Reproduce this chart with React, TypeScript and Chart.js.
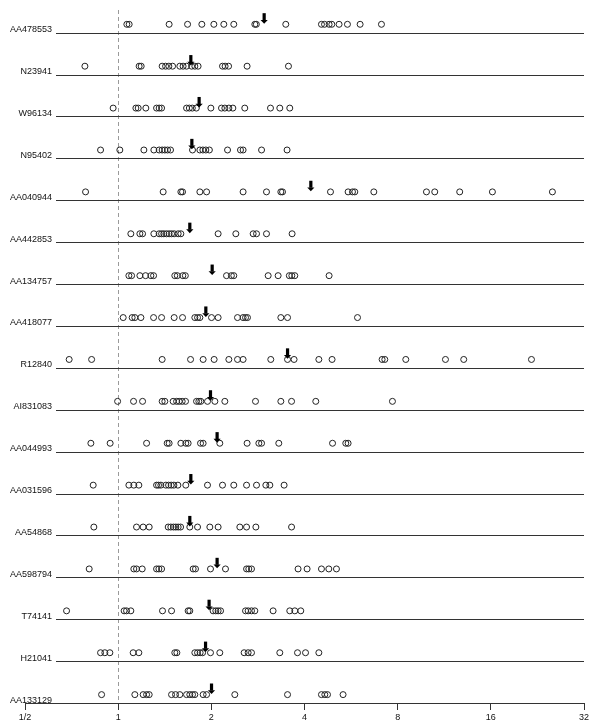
import { useEffect, useRef } from "react";
import { Chart, registerables } from "chart.js";

Chart.register(...registerables);

// Gene / clone identifiers, top to bottom
const geneNames = [
  "AA478553", "N23941", "W96134", "N95402", "AA040944", "AA442853", "AA134757",
  "AA418077", "R12840", "AI831083", "AA044993", "AA031596", "AA54868",
  "AA598794", "T74141", "H21041", "AA133129",
];

// Observed ratios for each clone, stored as log2(ratio)
const AA478553 = [0.093, 0.118, 0.547, 0.745, 0.898, 1.027, 1.134, 1.241, 1.467, 1.483, 1.799, 2.182, 2.215, 2.264, 2.293, 2.371, 2.461, 2.597, 2.826];
const N23941 = [-0.357, 0.225, 0.247, 0.472, 0.509, 0.544, 0.584, 0.662, 0.697, 0.734, 0.788, 0.823, 0.858, 1.12, 1.148, 1.185, 1.384, 1.828];
const W96134 = [-0.054, 0.19, 0.215, 0.297, 0.412, 0.44, 0.466, 0.734, 0.764, 0.796, 0.839, 0.995, 1.109, 1.145, 1.188, 1.231, 1.359, 1.635, 1.735, 1.842];
const N95402 = [-0.189, 0.018, 0.276, 0.383, 0.44, 0.472, 0.501, 0.53, 0.562, 0.798, 0.877, 0.909, 0.941, 0.979, 1.174, 1.313, 1.341, 1.539, 1.813];
const AA040944 = [-0.35, 0.483, 0.673, 0.691, 0.877, 0.949, 1.341, 1.592, 1.746, 1.764, 2.279, 2.468, 2.515, 2.54, 2.744, 3.309, 3.398, 3.666, 4.017, 4.661];
const AA442853 = [0.136, 0.233, 0.262, 0.383, 0.44, 0.466, 0.49, 0.519, 0.547, 0.573, 0.601, 0.644, 0.673, 1.073, 1.263, 1.449, 1.485, 1.592, 1.867];
const AA134757 = [0.115, 0.144, 0.233, 0.294, 0.351, 0.38, 0.608, 0.635, 0.694, 0.721, 1.163, 1.215, 1.241, 1.61, 1.717, 1.837, 1.864, 1.896, 2.264];
const AA418077 = [0.054, 0.15, 0.179, 0.244, 0.38, 0.466, 0.601, 0.691, 0.823, 0.852, 0.877, 1.002, 1.073, 1.281, 1.341, 1.367, 1.388, 1.746, 1.818, 2.569];
const R12840 = [-0.526, -0.285, 0.472, 0.777, 0.912, 1.03, 1.188, 1.281, 1.341, 1.638, 1.818, 1.888, 2.154, 2.296, 2.833, 2.862, 3.087, 3.513, 3.709, 4.436];
const AI831083 = [-0.006, 0.165, 0.262, 0.472, 0.501, 0.59, 0.627, 0.655, 0.687, 0.723, 0.841, 0.866, 0.887, 0.959, 1.038, 1.145, 1.474, 1.746, 1.861, 2.121, 2.944];
const AA044993 = [-0.293, -0.086, 0.305, 0.526, 0.547, 0.673, 0.726, 0.751, 0.884, 0.912, 1.091, 1.384, 1.51, 1.539, 1.724, 2.301, 2.443, 2.468];
const AA031596 = [-0.268, 0.115, 0.168, 0.222, 0.412, 0.433, 0.458, 0.512, 0.541, 0.569, 0.598, 0.641, 0.726, 0.959, 1.12, 1.241, 1.378, 1.485, 1.585, 1.628, 1.781];
const AA54868 = [-0.261, 0.197, 0.268, 0.333, 0.537, 0.565, 0.594, 0.619, 0.644, 0.67, 0.769, 0.852, 0.984, 1.073, 1.306, 1.378, 1.478, 1.861];
const AA598794 = [-0.311, 0.168, 0.197, 0.258, 0.412, 0.437, 0.466, 0.805, 0.83, 0.991, 1.152, 1.378, 1.402, 1.431, 1.931, 2.028, 2.182, 2.261, 2.343];
const T74141 = [-0.554, 0.064, 0.09, 0.136, 0.476, 0.573, 0.751, 0.769, 1.019, 1.048, 1.073, 1.099, 1.367, 1.395, 1.431, 1.467, 1.663, 1.842, 1.896, 1.96];
const H21041 = [-0.189, -0.143, -0.089, 0.161, 0.222, 0.608, 0.63, 0.823, 0.852, 0.88, 0.906, 0.991, 1.091, 1.352, 1.395, 1.431, 1.735, 1.925, 2.011, 2.154];
const AA133129 = [-0.178, 0.179, 0.268, 0.305, 0.333, 0.573, 0.616, 0.662, 0.734, 0.769, 0.798, 0.823, 0.912, 0.949, 1.252, 1.818, 2.182, 2.218, 2.247, 2.414];

const log2Series = [
  AA478553, N23941, W96134, N95402, AA040944, AA442853, AA134757, AA418077,
  R12840, AI831083, AA044993, AA031596, AA54868, AA598794, T74141, H21041, AA133129,
];

// Arrow marker (summary ratio) per clone, log2
const arrowLog2 = [1.567, 0.78, 0.869, 0.791, 2.068, 0.769, 1.009, 0.941, 1.818, 0.991, 1.062, 0.78, 0.769, 1.062, 0.976, 0.938, 1.002];

// Axis ticks (log2 position and label)
const tickLog2 = [-1, 0, 1, 2, 3, 4, 5];
const tickLabels = ["1/2", "1", "2", "4", "8", "16", "32"];

const FONT = '"Liberation Sans", Arial, Helvetica, sans-serif';

export default function App() {
  const ref = useRef<HTMLCanvasElement>(null);

  useEffect(() => {
    document.body.style.margin = "0";
    const n = geneNames.length;
    const rowPos = (i: number) => n - 1 - i;

    const datasets = log2Series.map((vals, i) => ({
      label: geneNames[i],
      data: vals.map((v) => ({ x: v, y: rowPos(i) + 0.2 })),
      pointStyle: "circle" as const,
      pointRadius: 3,
      pointHoverRadius: 3,
      pointBorderWidth: 1,
      borderColor: "#222",
      backgroundColor: "rgba(0,0,0,0)",
      showLine: false,
    }));

    const rowsPlugin = {
      id: "rowsPlugin",
      beforeDatasetsDraw(chart: any) {
        const { ctx, chartArea, scales } = chart;
        const xs = scales.x;
        const ys = scales.y;
        ctx.save();
        // dashed reference line at ratio 1
        const x1 = Math.round(xs.getPixelForValue(0)) + 0.5;
        ctx.strokeStyle = "#9a9a9a";
        ctx.lineWidth = 1;
        ctx.setLineDash([4, 3]);
        ctx.beginPath();
        ctx.moveTo(x1, chartArea.top + 10);
        ctx.lineTo(x1, chartArea.bottom);
        ctx.stroke();
        ctx.setLineDash([]);
        // baselines and labels
        ctx.font = `9px ${FONT}`;
        ctx.textAlign = "right";
        ctx.textBaseline = "alphabetic";
        ctx.fillStyle = "#111";
        ctx.strokeStyle = "#333";
        geneNames.forEach((name, i) => {
          const yy = ys.getPixelForValue(rowPos(i));
          if (i < n - 1) {
            const ly = Math.round(yy) + 0.5;
            ctx.beginPath();
            ctx.moveTo(chartArea.left + 31, ly);
            ctx.lineTo(chartArea.right, ly);
            ctx.stroke();
          }
          ctx.fillText(name, chartArea.left + 27, yy - 0.5);
        });
        ctx.restore();
      },
      afterDatasetsDraw(chart: any) {
        const { ctx, scales } = chart;
        const xs = scales.x;
        const ys = scales.y;
        ctx.save();
        ctx.fillStyle = "#000";
        arrowLog2.forEach((v, i) => {
          const ax = xs.getPixelForValue(v);
          const by = ys.getPixelForValue(rowPos(i));
          ctx.fillRect(ax - 1.6, by - 19.5, 3.2, 7);
          ctx.beginPath();
          ctx.moveTo(ax - 3.6, by - 12.8);
          ctx.lineTo(ax + 3.6, by - 12.8);
          ctx.lineTo(ax, by - 9);
          ctx.closePath();
          ctx.fill();
        });
        ctx.restore();
      },
    };

    const chart = new Chart(ref.current!, {
      type: "scatter",
      data: { datasets },
      options: {
        animation: false,
        responsive: true,
        maintainAspectRatio: false,
        layout: { autoPadding: false, padding: { left: 25, right: 16, top: 0, bottom: 0 } },
        plugins: {
          legend: { display: false },
          tooltip: { enabled: false },
        },
        scales: {
          x: {
            type: "linear",
            min: -1,
            max: 5,
            afterBuildTicks: (scale: any) => {
              scale.ticks = tickLog2.map((v) => ({ value: v }));
            },
            afterFit: (scale: any) => {
              scale.height = 25;
            },
            ticks: {
              autoSkip: false,
              maxRotation: 0,
              padding: 2,
              color: "#111",
              font: { family: FONT, size: 9 },
              callback: (value: any) => {
                const k = tickLog2.indexOf(Number(value));
                return k >= 0 ? tickLabels[k] : "";
              },
            },
            grid: {
              display: true,
              drawOnChartArea: false,
              drawTicks: true,
              tickLength: 7,
              tickColor: "#333",
            },
            border: { display: true, color: "#333", width: 1 },
          },
          y: {
            type: "linear",
            display: false,
            min: 0,
            max: 16.78,
          },
        },
      },
      plugins: [rowsPlugin],
    });

    return () => chart.destroy();
  }, []);

  return (
    <div style={{ position: "relative", width: 600, height: 728 }}>
      <canvas ref={ref} />
    </div>
  );
}
